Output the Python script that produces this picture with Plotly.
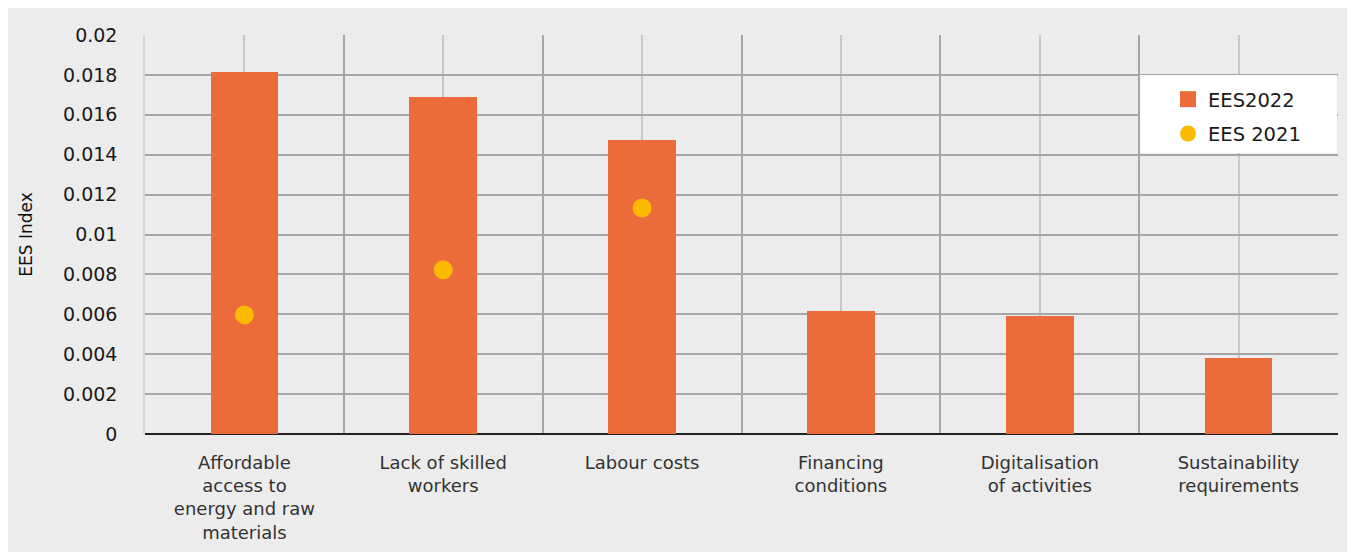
import plotly.graph_objects as go

categories = ["Affordable access to energy and raw materials", "Lack of skilled workers",
              "Labour costs", "Financing conditions", "Digitalisation of activities",
              "Sustainability requirements"]
tick_labels = ["Affordable<br>access to<br>energy and raw<br>materials", "Lack of skilled<br>workers",
               "Labour costs", "Financing<br>conditions", "Digitalisation<br>of activities",
               "Sustainability<br>requirements"]
ees2022 = [0.01815, 0.01689, 0.01474, 0.00617, 0.00594, 0.00381]
ees2021 = [0.00597, 0.00823, 0.01133, None, None, None]
y_ticks = [0, 0.002, 0.004, 0.006, 0.008, 0.01, 0.012, 0.014, 0.016, 0.018, 0.02]
y_tick_text = ["0", "0.002", "0.004", "0.006", "0.008", "0.01", "0.012", "0.014", "0.016", "0.018", "0.02"]

xpos = list(range(len(categories)))
boundaries = [i + 0.5 for i in xpos]
FONT = "DejaVu Sans"

fig = go.Figure()
fig.add_trace(go.Bar(x=xpos, y=ees2022, name="EES2022", width=0.34,
                     marker=dict(color="#EC6B3A", line=dict(width=0)),
                     showlegend=False, hovertext=categories))
fig.add_trace(go.Scatter(x=xpos, y=ees2021, name="EES 2021", mode="markers",
                         marker=dict(color="#FBB900", size=19), showlegend=False,
                         hovertext=categories))
# legend proxies
fig.add_trace(go.Scatter(x=[None], y=[None], name="EES2022", mode="markers",
                         marker=dict(color="#EC6B3A", size=19, symbol="square"),
                         legendgroup="a"))
fig.add_trace(go.Scatter(x=[None], y=[None], name="EES 2021", mode="markers",
                         marker=dict(color="#FBB900", size=19, symbol="circle"),
                         legendgroup="b"))

# page body has an 8px margin; work in screen coordinates and convert
OFF = 8
W, H = 1355 - OFF, 556 - OFF
L, R, T, B = 145 - OFF, 1355 - 1338, 35 - OFF, 556 - 434
pw, ph = W - L - R, H - T - B

def px_x(x):
    return (x - OFF - L) / pw

def px_y(y):
    return (H - B - (y - OFF)) / ph

fig.update_layout(
    width=W, height=H,
    margin=dict(l=L, r=R, t=T, b=B, pad=0),
    paper_bgcolor="white",
    plot_bgcolor="rgba(0,0,0,0)",
    font=dict(family=FONT, color="#222222"),
    bargap=0,
    shapes=[
        dict(type="rect", xref="paper", yref="paper", layer="below",
             x0=px_x(7), x1=px_x(1350), y0=px_y(552), y1=px_y(8),
             fillcolor="#ECECEC", line=dict(width=0)),
        dict(type="rect", xref="paper", yref="paper", layer="above",
             x0=px_x(1140), x1=px_x(1337), y0=px_y(153), y1=px_y(75),
             fillcolor="white", line=dict(width=0)),
    ],
    legend=dict(x=px_x(1168), y=px_y(80), xanchor="left", yanchor="top",
                bgcolor="rgba(0,0,0,0)", font=dict(size=19.5, color="#1a1a1a", family=FONT),
                traceorder="grouped", tracegroupgap=6, itemwidth=30),
    xaxis=dict(range=[-0.5, 5.5], tickmode="array", tickvals=xpos, ticktext=tick_labels,
               showgrid=True, gridcolor="#C8C8C8", gridwidth=1.5,
               ticks="outside", ticklen=12, tickcolor="rgba(0,0,0,0)",
               tickfont=dict(size=18, color="#333333", family=FONT),
               minor=dict(tickmode="array", tickvals=boundaries, showgrid=True,
                          gridcolor="#A6A6A6", gridwidth=1.5),
               zeroline=False, showline=False, fixedrange=True),
    yaxis=dict(range=[0, 0.02], tickmode="array", tickvals=y_ticks, ticktext=y_tick_text,
               showgrid=True, gridcolor="#A6A6A6", gridwidth=1.5,
               zeroline=True, zerolinecolor="#222222", zerolinewidth=2,
               ticks="outside", ticklen=22, tickcolor="rgba(0,0,0,0)",
               tickfont=dict(size=19, color="#1a1a1a", family=FONT),
               title=dict(text="EES Index", font=dict(size=17, color="#111111", family=FONT), standoff=26),
               showline=True, linecolor="#D4D4D4", linewidth=1.5, fixedrange=True),
)

fig.write_html("out.html")
